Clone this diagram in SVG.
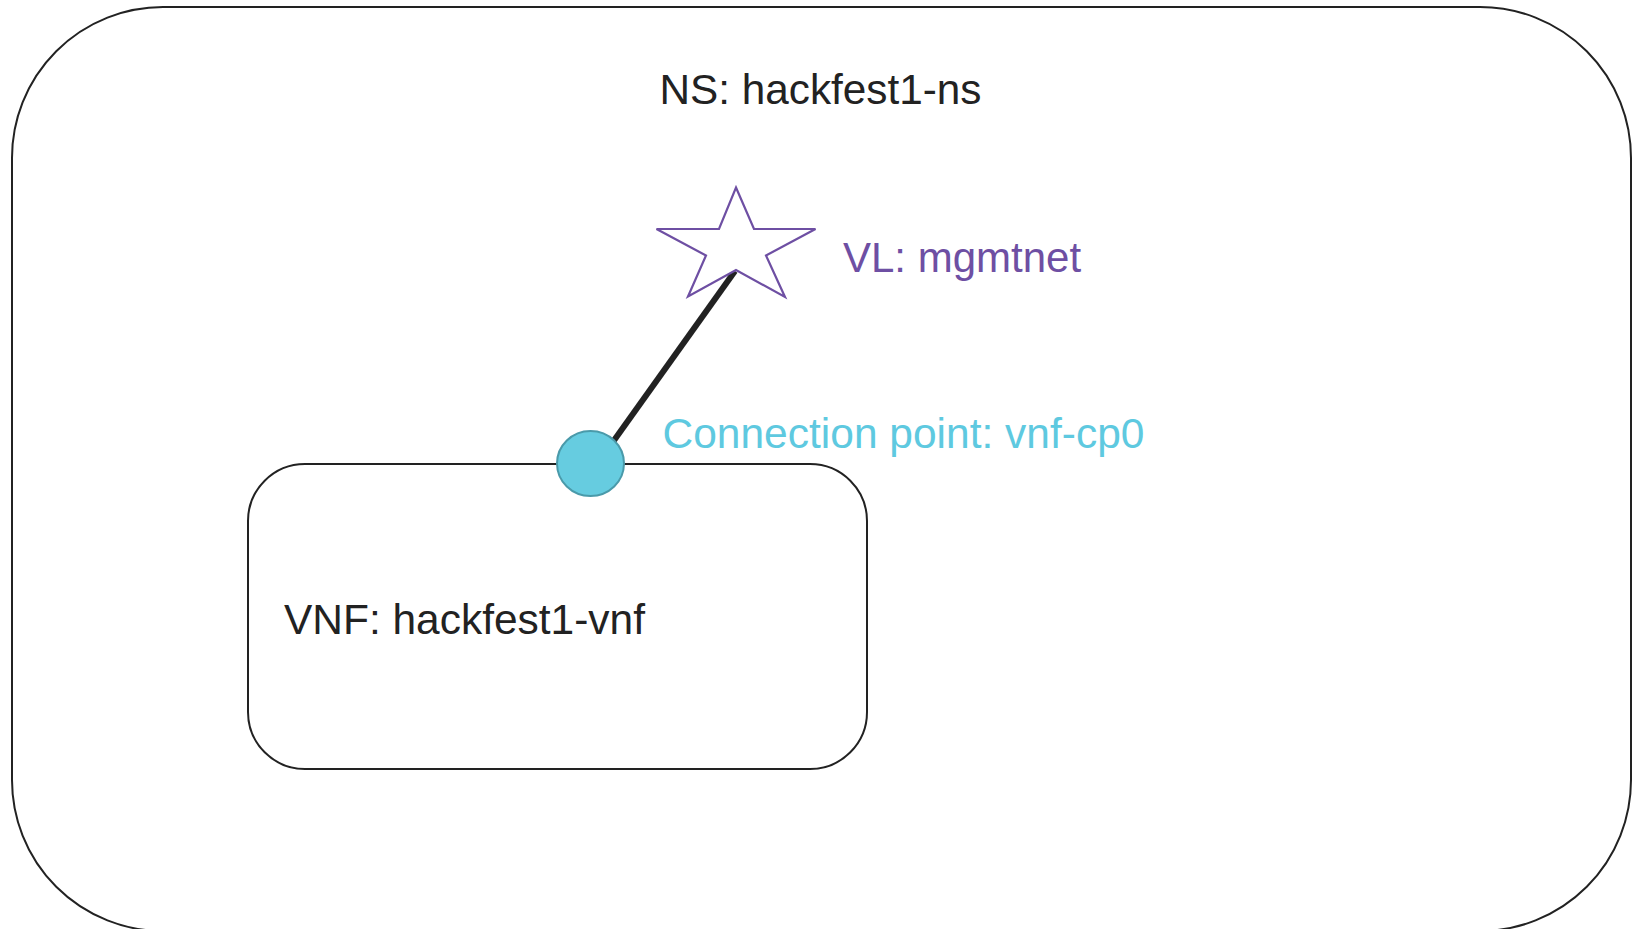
<svg xmlns="http://www.w3.org/2000/svg" width="1636" height="929" viewBox="0 0 1636 929">
<style>
.box{fill:none;stroke:#222;stroke-width:2}
.lbl{font-family:"Liberation Sans",Arial,sans-serif;font-size:42px}
</style>
<rect width="1636" height="929" fill="#fff"/>
<g id="ns">
<rect class="box" x="12" y="7" width="1619" height="924" rx="151" ry="151"/>
<text class="lbl" x="659.5" y="104" fill="#222" textLength="322" lengthAdjust="spacingAndGlyphs">NS: hackfest1-ns</text>
</g>
<g id="vnf">
<rect class="box" x="248" y="464" width="619" height="305" rx="57" ry="57" fill="#fff"/>
<text class="lbl" x="284" y="634" fill="#222" textLength="361" lengthAdjust="spacingAndGlyphs">VNF: hackfest1-vnf</text>
</g>
<g id="connectors">
<line x1="600" y1="460" x2="735" y2="271" stroke="#222" stroke-width="6"/>
</g>
<g id="vl">
<polygon points="736,187.5 754,229 815.5,229 766,255.5 785,297 736,270 688,296.5 706,255.5 656.5,229 719,229" fill="#fff" stroke="#6E4FA3" stroke-width="2.2" stroke-linejoin="miter"/>
<text class="lbl" x="843" y="272" fill="#6E4FA3">VL: mgmtnet</text>
</g>
<g id="cp">
<ellipse cx="590.5" cy="463.5" rx="33.5" ry="32.5" fill="#66CCE0" stroke="#4A9AAA" stroke-width="2"/>
<text class="lbl" x="662.5" y="448" fill="#5EC9E0" textLength="482" lengthAdjust="spacingAndGlyphs">Connection point: vnf-cp0</text>
</g>
</svg>
